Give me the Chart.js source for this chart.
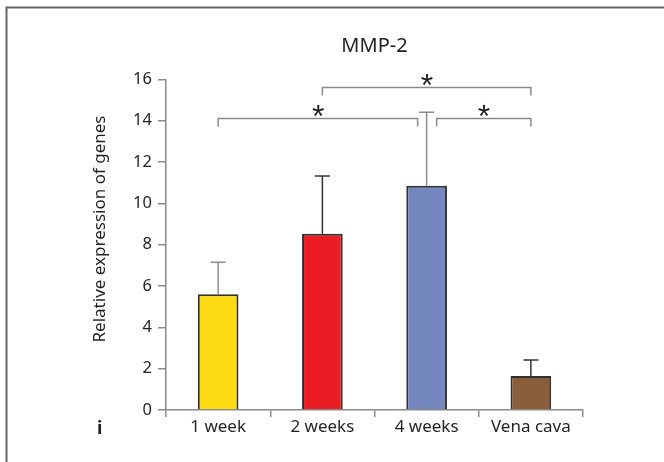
<!DOCTYPE html>
<html><head><meta charset="utf-8">
<script src="https://cdn.jsdelivr.net/npm/chart.js@4.4.0/dist/chart.umd.min.js"></script>
<style>html,body{margin:0;padding:0;background:#fff;} #wrap{width:664px;height:462px;position:relative;}</style>
</head><body><div id="wrap"><canvas id="c" width="664" height="462"></canvas></div>
<script>
const categories = ['1 week', '2 weeks', '4 weeks', 'Vena cava'];
const meanValues = [5.6, 8.53, 10.85, 1.64];
const errorValues = [1.55, 2.79, 3.55, 0.78];
const yTicks = [0, 2, 4, 6, 8, 10, 12, 14, 16];
const bracketFrom = [1, 0, 2];
const bracketTo = [3, 2, 3];
const bracketLevel = [15.6, 14.1, 14.1];
const bracketMark = ['*', '*', '*'];
const chartTitle = 'MMP-2';
const yTitle = 'Relative expression of genes';
const panelLabel = 'i';

const TEXT = '#231f20';
const AXIS = '#8a8a8a';

const deco = {
  id: 'deco',
  afterDatasetsDraw(chart) {
    const ctx = chart.ctx, ys = chart.scales.y;
    const meta = chart.getDatasetMeta(0);
    const ds = chart.data.datasets[0];
    meta.data.forEach((bar, i) => {
      const top = ys.getPixelForValue(meanValues[i] + errorValues[i]);
      ctx.save();
      ctx.strokeStyle = ds.errorColors[i];
      ctx.lineWidth = 1.5;
      ctx.beginPath();
      ctx.moveTo(bar.x, bar.y);
      ctx.lineTo(bar.x, top);
      ctx.moveTo(bar.x - 7.5, top);
      ctx.lineTo(bar.x + 7.5, top);
      ctx.stroke();
      ctx.restore();
    });
  },
  afterDraw(chart) {
    const ctx = chart.ctx, xs = chart.scales.x, ys = chart.scales.y;
    // significance brackets
    ctx.save();
    ctx.strokeStyle = AXIS;
    ctx.lineWidth = 1.5;
    for (let b = 0; b < bracketFrom.length; b++) {
      const y = ys.getPixelForValue(bracketLevel[b]);
      let x1 = xs.getPixelForValue(bracketFrom[b]);
      let x2 = xs.getPixelForValue(bracketTo[b]);
      for (let o = 0; o < bracketFrom.length; o++) {
        if (o === b || bracketLevel[o] !== bracketLevel[b]) continue;
        if (bracketTo[o] === bracketFrom[b]) x1 += 10;
        if (bracketFrom[o] === bracketTo[b]) x2 -= 9;
      }
      ctx.beginPath();
      ctx.moveTo(x1, y + 8);
      ctx.lineTo(x1, y);
      ctx.lineTo(x2, y);
      ctx.lineTo(x2, y + 8);
      ctx.stroke();
      // asterisk centred above
      const cx = (x1 + x2) / 2, cy = y - 8;
      ctx.fillStyle = TEXT;
      ctx.font = '32px "Liberation Sans"';
      ctx.textAlign = 'left';
      ctx.textBaseline = 'alphabetic';
      const m = ctx.measureText(bracketMark[b]);
      const gx = cx - (m.actualBoundingBoxRight - m.actualBoundingBoxLeft) / 2 + m.actualBoundingBoxLeft;
      const gy = cy + (m.actualBoundingBoxAscent - m.actualBoundingBoxDescent) / 2;
      ctx.fillText(bracketMark[b], gx, gy);
    }
    ctx.restore();

    // y-axis title
    ctx.save();
    ctx.fillStyle = TEXT;
    ctx.font = '17px "Noto Sans"';
    ctx.textAlign = 'center';
    ctx.textBaseline = 'alphabetic';
    ctx.translate(105, 229);
    ctx.rotate(-Math.PI / 2);
    ctx.fillText(yTitle, 0, 0);
    ctx.restore();

    // panel letter
    ctx.save();
    ctx.fillStyle = TEXT;
    ctx.font = 'bold 18px "Noto Sans"';
    ctx.textAlign = 'center';
    ctx.textBaseline = 'alphabetic';
    ctx.fillText(panelLabel, 99.7, 433.5);
    ctx.restore();

    // frame
    ctx.save();
    ctx.strokeStyle = '#666666';
    ctx.lineWidth = 2;
    ctx.beginPath();
    ctx.moveTo(6.5, 462);
    ctx.lineTo(6.5, 7.5);
    ctx.lineTo(664, 7.5);
    ctx.stroke();
    ctx.restore();
  }
};

new Chart(document.getElementById('c'), {
  type: 'bar',
  data: {
    labels: categories,
    datasets: [{
      data: meanValues,
      backgroundColor: ['#FDDB13', '#EC1C24', '#7587BF', '#8A5D3B'],
      borderColor: '#303030',
      borderWidth: 2,
      categoryPercentage: 1,
      barPercentage: 0.39,
      errorColors: ['#8c8c8c', '#333333', '#8c8c8c', '#333333']
    }]
  },
  options: {
    responsive: false,
    animation: false,
    layout: { padding: { left: 0, right: 81, top: 0, bottom: 0 } },
    plugins: {
      legend: { display: false },
      tooltip: { enabled: false },
      title: {
        display: true,
        text: chartTitle,
        fullSize: false,
        color: TEXT,
        font: { family: 'Noto Sans', size: 20, weight: 'normal', lineHeight: 1.2 },
        padding: { top: 34, bottom: 21.3 }
      }
    },
    scales: {
      x: {
        offset: true,
        grid: { offset: true, drawOnChartArea: false, drawTicks: true, tickLength: 7, color: AXIS, lineWidth: 1.5 },
        border: { display: true, color: AXIS, width: 1.5 },
        ticks: { color: TEXT, font: { family: 'Noto Sans', size: 17 }, padding: 0, maxRotation: 0, autoSkip: false },
        afterFit: s => { s.height = 52; }
      },
      y: {
        min: 0, max: 16,
        afterBuildTicks: s => { s.ticks = yTicks.map(v => ({ value: v })); },
        grid: { drawOnChartArea: false, drawTicks: true, tickLength: 8, color: AXIS, lineWidth: 1.5 },
        border: { display: true, color: AXIS, width: 1.5 },
        ticks: { color: TEXT, font: { family: 'Noto Sans', size: 16.5 }, padding: 6 },
        afterFit: s => { s.width = 166; }
      }
    }
  },
  plugins: [deco]
});
</script>
</body></html>
